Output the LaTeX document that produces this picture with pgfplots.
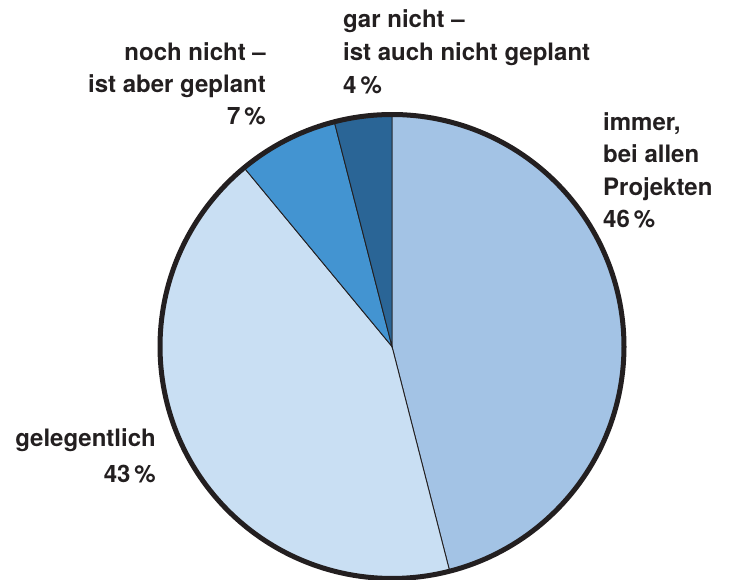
\documentclass[border=0pt]{standalone}
\usepackage{fontspec}
\setmainfont{TeX Gyre Heros}
\usepackage{pgfplots}
\pgfplotsset{compat=1.18}
\definecolor{cImmer}{HTML}{A3C3E5}
\definecolor{cGel}{HTML}{C9DFF3}
\definecolor{cNoch}{HTML}{4394D1}
\definecolor{cGar}{HTML}{2A6596}
\definecolor{ink}{HTML}{231F20}
\begin{document}
\begin{tikzpicture}[x=1pt,y=1pt]
\useasboundingbox (0,0) rectangle (732,580);
\begin{axis}[
  x=232pt, y=232pt,
  xmin=-1.1, xmax=1.1, ymin=-1.1, ymax=1.1,
  hide axis, anchor=origin, at={(392pt,233.5pt)},
  clip=false,
]
% immer 46 %: from 90 down to 90-46*3.6
\addplot[fill=cImmer, draw=ink, line width=0.9pt, domain=-75.6:90, samples=120, variable=\t]
  ({cos(\t)},{sin(\t)}) -- (axis cs:0,0) -- cycle;
% gelegentlich 43 %
\addplot[fill=cGel, draw=ink, line width=0.9pt, domain=-230.4:-75.6, samples=120, variable=\t]
  ({cos(\t)},{sin(\t)}) -- (axis cs:0,0) -- cycle;
% noch nicht 7 %
\addplot[fill=cNoch, draw=ink, line width=0.9pt, domain=-255.6:-230.4, samples=30, variable=\t]
  ({cos(\t)},{sin(\t)}) -- (axis cs:0,0) -- cycle;
% gar nicht 4 %
\addplot[fill=cGar, draw=ink, line width=0.9pt, domain=-270:-255.6, samples=20, variable=\t]
  ({cos(\t)},{sin(\t)}) -- (axis cs:0,0) -- cycle;
% outer ring
\addplot[draw=ink, line width=5pt, domain=0:360, samples=240, variable=\t]
  ({cos(\t)},{sin(\t)}) -- cycle;
\end{axis}
\begin{scope}[every node/.style={font=\fontsize{24pt}{32.5pt}\selectfont\bfseries, text=ink, inner sep=0pt}]
\node[anchor=base west] at (343,552) {gar nicht –};
\node[anchor=base west] at (343,519) {ist auch nicht geplant};
\node[anchor=base west] at (343,486) {4\,\%};
\node[anchor=base east] at (266,519) {noch nicht –};
\node[anchor=base east] at (266,487) {ist aber geplant};
\node[anchor=base east] at (266,455) {7\,\%};
\node[anchor=base west] at (603,449) {immer,};
\node[anchor=base west] at (603,417) {bei allen};
\node[anchor=base west] at (603,384) {Projekten};
\node[anchor=base west] at (603,352) {46\,\%};
\node[anchor=base east] at (156,133) {gelegentlich};
\node[anchor=base east] at (156,97) {43\,\%};
\end{scope}
\end{tikzpicture}
\end{document}
